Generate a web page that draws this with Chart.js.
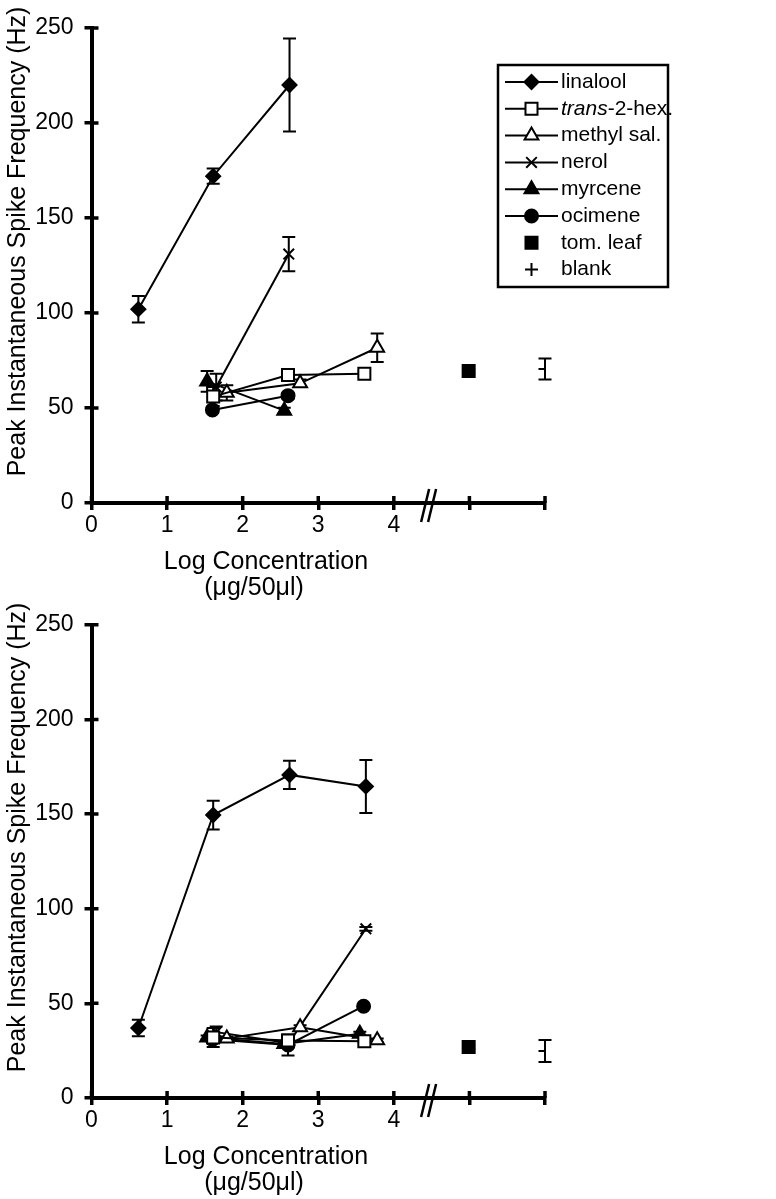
<!DOCTYPE html>
<html>
<head>
<meta charset="utf-8">
<script src="https://cdn.jsdelivr.net/npm/chart.js@4/dist/chart.umd.min.js"></script>
<style>
  body { margin: 0; background: #fff; }
  .panel { position: absolute; left: 0; }
</style>
</head>
<body>
<div class="panel" style="top:0"><canvas id="topChart" width="776" height="600"></canvas></div>
<div class="panel" style="top:600px"><canvas id="bottomChart" width="776" height="599"></canvas></div>
<script>
const FONT = "'Liberation Sans', Arial, Helvetica, sans-serif";

// legend / series names
const seriesNames = ['linalool', 'trans-2-hex.', 'methyl sal.', 'nerol', 'myrcene', 'ocimene', 'tom. leaf', 'blank'];

// x positions (log concentration) of each series' points
const xLinalool = [0.62, 1.61, 2.62, 3.63];
const xTrans = [1.61, 2.6, 3.61];
const xMethyl = [1.79, 2.76, 3.78];
const xNerol = [1.65, 2.61, 3.63];
const xMyrcene = [1.53, 2.55, 3.55];
const xOcimene = [1.6, 2.6, 3.6];
const xLeaf = [4.99];
const xBlank = [6.0];

// axis ticks
const xTickValues = [0, 1, 2, 3, 4, 5, 6];
const xTickLabels = ['0', '1', '2', '3', '4', '', ''];
const yTickValues = [0, 50, 100, 150, 200, 250];

// top panel values (Hz) and error bars
const topLinalool = [102, 172, 220];
const topLinaloolErr = [7, 4, 24.5];
const topTrans = [56, 67.4, 68];
const topTransErr = [5, 3, 1.5];
const topMethyl = [58, 63, 81.7];
const topMethylErr = [4, 2, 7.5];
const topNerol = [61, 131];
const topNerolErr = [7, 9];
const topMyrcene = [64, 48.6];
const topMyrceneErr = [5.5, 1.5];
const topOcimene = [49, 56.5];
const topOcimeneErr = [1.5, 1.5];
const topLeaf = [69.5];
const topLeafErr = [1];
const topBlank = [70.5];
const topBlankErr = [5.5];

// bottom panel values (Hz) and error bars
const botLinalool = [37, 149.5, 170.7, 164.6];
const botLinaloolErr = [4.4, 7.6, 7.5, 14];
const botTrans = [32, 30.4, 30];
const botTransErr = [5, 1.5, 1];
const botMethyl = [31.5, 37.4, 30.5];
const botMethylErr = [1, 1, 1];
const botNerol = [34.8, 29, 89.4];
const botNerolErr = [3, 1, 1];
const botMyrcene = [32, 28.5, 34];
const botMyrceneErr = [1, 1, 1];
const botOcimene = [31, 28, 48.5];
const botOcimeneErr = [1, 5.5, 1];
const botLeaf = [26.9];
const botLeafErr = [1];
const botBlank = [24.8];
const botBlankErr = [5.8];

const styles = [
  { pointStyle: 'rectRot', radius: 7, fill: '#000' },
  { pointStyle: 'rect', radius: 8.5, fill: '#fff' },
  { pointStyle: 'triangle', radius: 8, fill: '#fff' },
  { pointStyle: 'crossRot', radius: 7.5, fill: '#000' },
  { pointStyle: 'triangle', radius: 8, fill: '#000' },
  { pointStyle: 'circle', radius: 6.5, fill: '#000' },
  { pointStyle: 'rect', radius: 8.5, fill: '#000' },
  { pointStyle: 'cross', radius: 6.5, fill: '#000' }
];

function makeSet(i, xs, ys, errs) {
  const st = styles[i];
  return {
    label: seriesNames[i],
    data: ys.map((v, k) => ({ x: xs[k], y: v })),
    err: errs,
    showLine: i < 6,
    borderColor: '#000',
    borderWidth: 2,
    backgroundColor: st.fill,
    pointStyle: st.pointStyle,
    pointRadius: st.radius,
    pointBackgroundColor: st.fill,
    pointBorderColor: '#000',
    pointBorderWidth: 2
  };
}

const errorBars = {
  id: 'errorBars',
  beforeDatasetsDraw(chart) {
    const { ctx, scales: { x, y } } = chart;
    ctx.save();
    ctx.strokeStyle = '#000';
    ctx.lineWidth = 2;
    chart.data.datasets.forEach(ds => {
      ds.data.forEach((p, i) => {
        const e = ds.err[i];
        if (!e) return;
        const px = x.getPixelForValue(p.x);
        const t = y.getPixelForValue(p.y + e);
        const b = y.getPixelForValue(p.y - e);
        ctx.beginPath();
        ctx.moveTo(px, t); ctx.lineTo(px, b);
        ctx.moveTo(px - 6.5, t); ctx.lineTo(px + 6.5, t);
        ctx.moveTo(px - 6.5, b); ctx.lineTo(px + 6.5, b);
        ctx.stroke();
      });
    });
    ctx.restore();
  }
};

function drawMarker(ctx, st, x, y) {
  const r = st.radius;
  ctx.beginPath();
  if (st.pointStyle === 'rectRot') {
    ctx.moveTo(x - r, y); ctx.lineTo(x, y - r); ctx.lineTo(x + r, y); ctx.lineTo(x, y + r); ctx.closePath();
  } else if (st.pointStyle === 'rect') {
    const s = r * Math.SQRT1_2;
    ctx.rect(x - s, y - s, 2 * s, 2 * s);
  } else if (st.pointStyle === 'triangle') {
    ctx.moveTo(x, y - r);
    ctx.lineTo(x + r * 0.866, y + r * 0.5);
    ctx.lineTo(x - r * 0.866, y + r * 0.5);
    ctx.closePath();
  } else if (st.pointStyle === 'circle') {
    ctx.arc(x, y, r, 0, Math.PI * 2);
  } else if (st.pointStyle === 'crossRot') {
    const s = r * Math.SQRT1_2;
    ctx.moveTo(x - s, y - s); ctx.lineTo(x + s, y + s);
    ctx.moveTo(x + s, y - s); ctx.lineTo(x - s, y + s);
  } else if (st.pointStyle === 'cross') {
    ctx.moveTo(x, y - r); ctx.lineTo(x, y + r);
    ctx.moveTo(x - r, y); ctx.lineTo(x + r, y);
  }
  if (st.pointStyle !== 'crossRot' && st.pointStyle !== 'cross') {
    ctx.fillStyle = st.fill;
    ctx.fill();
  }
  ctx.stroke();
}

const decorations = {
  id: 'decorations',
  afterDraw(chart, args, opts) {
    const { ctx, chartArea, scales: { x, y } } = chart;
    ctx.save();
    ctx.strokeStyle = '#000';
    ctx.fillStyle = '#000';
    // inner half of the crossing tick marks
    ctx.lineWidth = 3.5;
    ctx.beginPath();
    x.ticks.forEach((t, i) => {
      const px = x.getPixelForTick(i);
      ctx.moveTo(px, chartArea.bottom); ctx.lineTo(px, chartArea.bottom - 7);
    });
    y.ticks.forEach((t, i) => {
      const py = y.getPixelForTick(i);
      ctx.moveTo(chartArea.left, py); ctx.lineTo(chartArea.left + 7, py);
    });
    ctx.stroke();

    // axis break marks
    const bx = x.getPixelForValue(4.46);
    const by = chartArea.bottom;
    ctx.lineWidth = 2.5;
    ctx.beginPath();
    [-3.5, 3.5].forEach(d => {
      ctx.moveTo(bx + d + 4, by - 14); ctx.lineTo(bx + d - 4, by + 19);
    });
    ctx.stroke();

    // y axis title
    ctx.font = '25px ' + FONT;
    ctx.textAlign = 'center';
    ctx.textBaseline = 'alphabetic';
    ctx.save();
    ctx.translate(25, (chartArea.top + chartArea.bottom) / 2 - 24);
    ctx.rotate(-Math.PI / 2);
    ctx.fillText('Peak Instantaneous Spike Frequency (Hz)', 0, 0);
    ctx.restore();

    // x axis title
    ctx.fillText('Log Concentration', 266, chartArea.bottom + 65.5);
    ctx.fillText('(\u03bcg/50\u03bcl)', 254, chartArea.bottom + 92);

    // legend
    if (opts.legend) {
      ctx.lineWidth = 2.5;
      ctx.strokeRect(498, 65, 170, 222);
      ctx.font = '21px ' + FONT;
      ctx.textAlign = 'left';
      ctx.textBaseline = 'middle';
      seriesNames.forEach((name, i) => {
        const ly = 82 + i * 26.8;
        ctx.lineWidth = 2;
        if (i < 6) {
          ctx.beginPath();
          ctx.moveTo(505, ly); ctx.lineTo(558, ly);
          ctx.stroke();
        }
        drawMarker(ctx, styles[i], 531.5, ly);
        ctx.fillStyle = '#000';
        if (i === 1) {
          ctx.font = 'italic 21px ' + FONT;
          ctx.fillText('trans', 561, ly);
          const w = ctx.measureText('trans').width;
          ctx.font = '21px ' + FONT;
          ctx.fillText('-2-hex.', 561 + w, ly);
        } else {
          ctx.fillText(name, 561, ly);
        }
      });
    }
    ctx.restore();
  }
};

function buildChart(canvasId, sets, areaTop, xHeight, showLegend) {
  return new Chart(document.getElementById(canvasId).getContext('2d'), {
    type: 'scatter',
    data: { datasets: sets },
    plugins: [errorBars, decorations],
    options: {
      responsive: false,
      animation: false,
      events: [],
      layout: { padding: { top: areaTop, right: 231, bottom: 0, left: 0 } },
      plugins: {
        legend: { display: false },
        tooltip: { enabled: false },
        decorations: { legend: showLegend }
      },
      scales: {
        x: {
          type: 'linear',
          min: 0,
          max: 6,
          afterBuildTicks: s => { s.ticks = xTickValues.map(v => ({ value: v })); },
          afterFit: s => { s.height = xHeight; },
          ticks: {
            autoSkip: false,
            maxRotation: 0,
            padding: 2,
            color: '#000',
            font: { family: FONT, size: 23 },
            callback: (v, i) => xTickLabels[i]
          },
          grid: { drawOnChartArea: false, tickLength: 7, lineWidth: 3.5, color: '#000' },
          border: { width: 4, color: '#000' }
        },
        y: {
          type: 'linear',
          min: 0,
          max: 250,
          afterBuildTicks: s => { s.ticks = yTickValues.map(v => ({ value: v })); },
          afterFit: s => { s.width = 91.5; },
          ticks: {
            padding: 11,
            color: '#000',
            font: { family: FONT, size: 23 }
          },
          grid: { drawOnChartArea: false, tickLength: 7, lineWidth: 3.5, color: '#000' },
          border: { width: 4, color: '#000' }
        }
      }
    }
  });
}

const topSets = [
  makeSet(0, xLinalool, topLinalool, topLinaloolErr),
  makeSet(1, xTrans, topTrans, topTransErr),
  makeSet(2, xMethyl, topMethyl, topMethylErr),
  makeSet(3, xNerol, topNerol, topNerolErr),
  makeSet(4, xMyrcene, topMyrcene, topMyrceneErr),
  makeSet(5, xOcimene, topOcimene, topOcimeneErr),
  makeSet(6, xLeaf, topLeaf, topLeafErr),
  makeSet(7, xBlank, topBlank, topBlankErr)
];

const bottomSets = [
  makeSet(0, xLinalool, botLinalool, botLinaloolErr),
  makeSet(1, xTrans, botTrans, botTransErr),
  makeSet(2, xMethyl, botMethyl, botMethylErr),
  makeSet(3, xNerol, botNerol, botNerolErr),
  makeSet(4, xMyrcene, botMyrcene, botMyrceneErr),
  makeSet(5, xOcimene, botOcimene, botOcimeneErr),
  makeSet(6, xLeaf, botLeaf, botLeafErr),
  makeSet(7, xBlank, botBlank, botBlankErr)
];

buildChart('topChart', topSets, 28, 97, true);
buildChart('bottomChart', bottomSets, 21.7, 101, false);
</script>
</body>
</html>
